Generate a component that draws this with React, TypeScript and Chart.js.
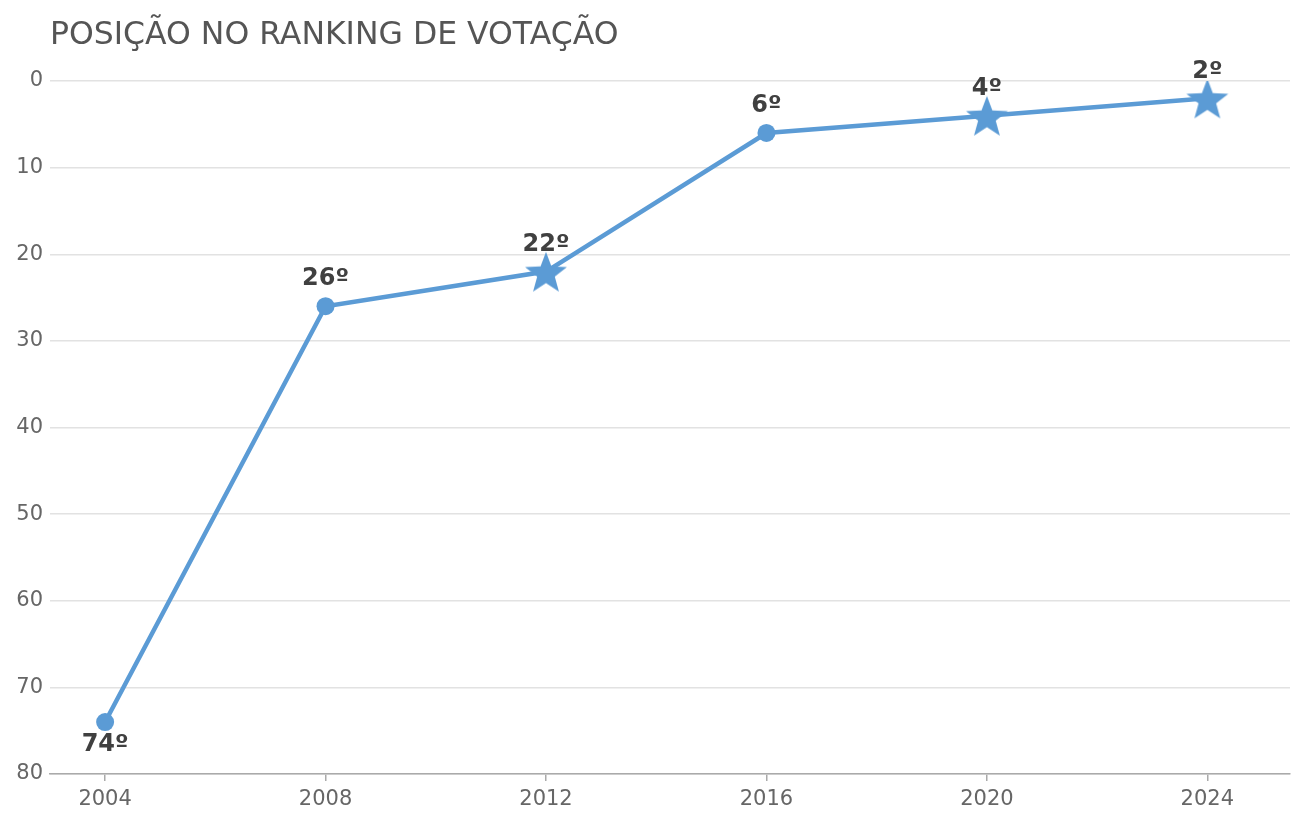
import { Chart, registerables } from 'chart.js';
import { useEffect, useRef } from 'react';

Chart.register(...registerables);

const years = [2004, 2008, 2012, 2016, 2020, 2024];
const positions = [74, 26, 22, 6, 4, 2];
const markers = ['circle', 'circle', 'star', 'circle', 'star', 'star'];
const yTicks = [0, 10, 20, 30, 40, 50, 60, 70, 80];

const TITLE = 'POSIÇÃO NO RANKING DE VOTAÇÃO';
const BLUE = '#5b9bd5';
const FONT = '"DejaVu Sans", sans-serif';

function makeStar(r: number) {
  const c = document.createElement('canvas');
  const s = Math.ceil(r * 2 + 2);
  c.width = s;
  c.height = s;
  const ctx = c.getContext('2d')!;
  const cx = s / 2;
  const cy = s / 2 + r * 0.1;
  ctx.beginPath();
  for (let i = 0; i < 10; i++) {
    const rad = i % 2 === 0 ? r : r * 0.42;
    const a = -Math.PI / 2 + (i * Math.PI) / 5;
    const x = cx + rad * Math.cos(a);
    const y = cy + rad * Math.sin(a);
    if (i === 0) ctx.moveTo(x, y);
    else ctx.lineTo(x, y);
  }
  ctx.closePath();
  ctx.fillStyle = BLUE;
  ctx.fill();
  return c;
}

const labelPlugin = {
  id: 'rankLabels',
  afterDatasetsDraw(chart: any) {
    const { ctx } = chart;
    const meta = chart.getDatasetMeta(0);
    ctx.save();
    ctx.font = `bold 24px ${FONT}`;
    ctx.fillStyle = '#404040';
    ctx.textAlign = 'center';
    ctx.textBaseline = 'middle';
    meta.data.forEach((pt: any, i: number) => {
      const below = i === 0;
      ctx.fillText(positions[i] + 'º', pt.x, pt.y + (below ? 23 : -27));
    });
    ctx.restore();
  },
};

const titlePlugin = {
  id: 'leftTitle',
  afterDraw(chart: any) {
    const { ctx, chartArea } = chart;
    ctx.save();
    ctx.font = `31.5px ${FONT}`;
    ctx.fillStyle = '#555555';
    ctx.textAlign = 'left';
    ctx.textBaseline = 'alphabetic';
    ctx.fillText(TITLE, chartArea.left, 44);
    ctx.restore();
  },
};

export default function App() {
  const canvasRef = useRef<HTMLCanvasElement>(null);

  useEffect(() => {
    if (!canvasRef.current) return;
    const star = makeStar(22);
    const styles = markers.map((m) => (m === 'star' ? star : 'circle'));

    const chart = new Chart(canvasRef.current, {
      type: 'line',
      data: {
        datasets: [
          {
            data: years.map((y, i) => ({ x: y, y: positions[i] })),
            borderColor: BLUE,
            backgroundColor: BLUE,
            borderWidth: 4.5,
            pointStyle: styles as any,
            pointRadius: 9,
            pointBorderWidth: 0,
            tension: 0,
          },
        ],
      },
      options: {
        animation: false,
        responsive: true,
        maintainAspectRatio: false,
        layout: { padding: { top: 81, right: 15, left: 0, bottom: 0 } },
        plugins: {
          legend: { display: false },
          tooltip: { enabled: false },
        },
        scales: {
          x: {
            type: 'linear',
            min: 2003,
            max: 2025.5,
            afterBuildTicks: (scale: any) => {
              scale.ticks = years.map((v) => ({ value: v }));
            },
            afterFit: (scale: any) => {
              scale.height = 50;
            },
            ticks: {
              color: '#666666',
              font: { family: FONT, size: 21 },
              padding: 6,
              callback: (v: any) => String(v),
            },
            grid: {
              drawOnChartArea: false,
              drawTicks: true,
              tickLength: 7,
              color: '#aaaaaa',
              lineWidth: 1.5,
            },
            border: { color: '#aaaaaa', width: 1.5 },
          },
          y: {
            reverse: true,
            min: 0,
            max: 80,
            afterBuildTicks: (scale: any) => {
              scale.ticks = yTicks.map((v) => ({ value: v }));
            },
            afterFit: (scale: any) => {
              scale.width = 50;
            },
            ticks: {
              color: '#666666',
              font: { family: FONT, size: 21 },
              padding: 7,
            },
            grid: {
              drawTicks: false,
              color: '#e2e2e2',
              lineWidth: 1.5,
            },
            border: { display: false },
          },
        },
      },
      plugins: [labelPlugin, titlePlugin],
    });

    return () => chart.destroy();
  }, []);

  return (
    <div style={{ position: 'fixed', inset: 0, background: '#fff' }}>
      <canvas ref={canvasRef}></canvas>
    </div>
  );
}
